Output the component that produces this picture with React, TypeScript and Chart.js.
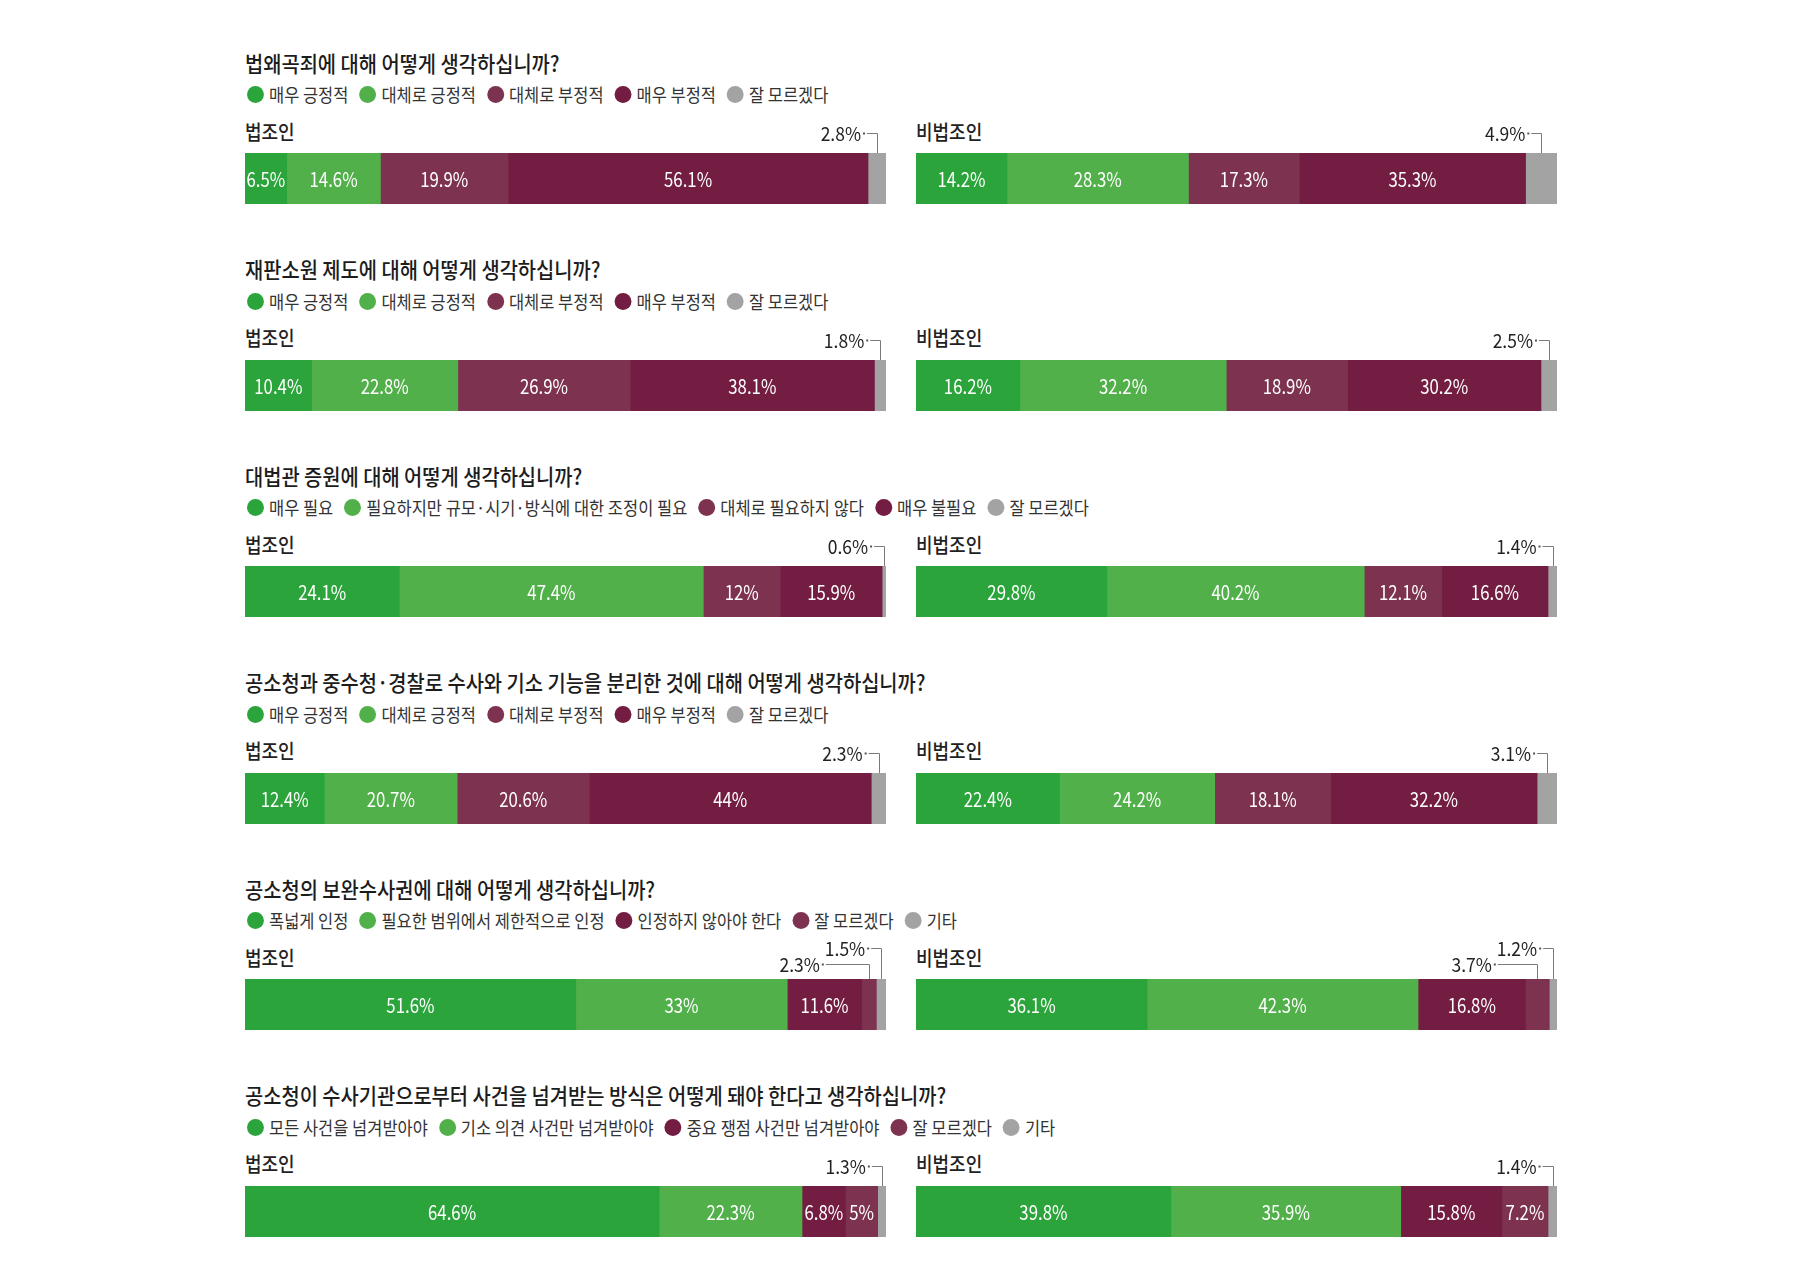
import React, { useEffect, useRef } from "react";
import { Chart, registerables } from "chart.js";

Chart.register(...registerables);

const FONT = '"Noto Sans CJK KR", "Noto Sans", sans-serif';

// ---------- colours ----------
const DARK_GREEN = "#2ba53b";
const LIGHT_GREEN = "#52b04b";
const MAUVE = "#7d3350";
const BURGUNDY = "#731d42";
const GRAY = "#a3a3a3";

const COLORS_A = [DARK_GREEN, LIGHT_GREEN, MAUVE, BURGUNDY, GRAY];
const COLORS_B = [DARK_GREEN, LIGHT_GREEN, BURGUNDY, MAUVE, GRAY];

// ---------- text ----------
const GROUPS = ["법조인", "비법조인"];

const TITLES = [
  "법왜곡죄에 대해 어떻게 생각하십니까?",
  "재판소원 제도에 대해 어떻게 생각하십니까?",
  "대법관 증원에 대해 어떻게 생각하십니까?",
  "공소청과 중수청·경찰로 수사와 기소 기능을 분리한 것에 대해 어떻게 생각하십니까?",
  "공소청의 보완수사권에 대해 어떻게 생각하십니까?",
  "공소청이 수사기관으로부터 사건을 넘겨받는 방식은 어떻게 돼야 한다고 생각하십니까?",
];

const LEGEND_OPINION = ["매우 긍정적", "대체로 긍정적", "대체로 부정적", "매우 부정적", "잘 모르겠다"];
const LEGEND_JUSTICES = ["매우 필요", "필요하지만 규모·시기·방식에 대한 조정이 필요", "대체로 필요하지 않다", "매우 불필요", "잘 모르겠다"];
const LEGEND_SUPPLEMENT = ["폭넓게 인정", "필요한 범위에서 제한적으로 인정", "인정하지 않아야 한다", "잘 모르겠다", "기타"];
const LEGEND_TRANSFER = ["모든 사건을 넘겨받아야", "기소 의견 사건만 넘겨받아야", "중요 쟁점 사건만 넘겨받아야", "잘 모르겠다", "기타"];

// ---------- values (%) : [법조인, 비법조인] ----------
const Q1_LAWYER = [6.5, 14.6, 19.9, 56.1, 2.8];
const Q1_PUBLIC = [14.2, 28.3, 17.3, 35.3, 4.9];

const Q2_LAWYER = [10.4, 22.8, 26.9, 38.1, 1.8];
const Q2_PUBLIC = [16.2, 32.2, 18.9, 30.2, 2.5];

const Q3_LAWYER = [24.1, 47.4, 12, 15.9, 0.6];
const Q3_PUBLIC = [29.8, 40.2, 12.1, 16.6, 1.4];

const Q4_LAWYER = [12.4, 20.7, 20.6, 44, 2.3];
const Q4_PUBLIC = [22.4, 24.2, 18.1, 32.2, 3.1];

const Q5_LAWYER = [51.6, 33, 11.6, 2.3, 1.5];
const Q5_PUBLIC = [36.1, 42.3, 16.8, 3.7, 1.2];

const Q6_LAWYER = [64.6, 22.3, 6.8, 5, 1.3];
const Q6_PUBLIC = [39.8, 35.9, 15.8, 7.2, 1.4];

// values below this get an outside call-out label
const SMALL_VALUE = 5;

const SECTIONS = [
  { title: TITLES[0], legend: LEGEND_OPINION, colors: COLORS_A, lawyer: Q1_LAWYER, publicV: Q1_PUBLIC },
  { title: TITLES[1], legend: LEGEND_OPINION, colors: COLORS_A, lawyer: Q2_LAWYER, publicV: Q2_PUBLIC },
  { title: TITLES[2], legend: LEGEND_JUSTICES, colors: COLORS_A, lawyer: Q3_LAWYER, publicV: Q3_PUBLIC },
  { title: TITLES[3], legend: LEGEND_OPINION, colors: COLORS_A, lawyer: Q4_LAWYER, publicV: Q4_PUBLIC },
  { title: TITLES[4], legend: LEGEND_SUPPLEMENT, colors: COLORS_B, lawyer: Q5_LAWYER, publicV: Q5_PUBLIC },
  { title: TITLES[5], legend: LEGEND_TRANSFER, colors: COLORS_B, lawyer: Q6_LAWYER, publicV: Q6_PUBLIC },
];

// ---------- layout ----------
const PITCH = 206.5;
const LEFT_X = 245;
const RIGHT_X = 916;
const BAR_W = 641;
const BAR_H = 51;
const PAD_TOP = 45;

const fmt = (v: number) => `${v}%`;

function condensedText(ctx: CanvasRenderingContext2D, txt: string, x: number, y: number, sx: number) {
  ctx.save();
  ctx.translate(x, y);
  ctx.scale(sx, 1);
  ctx.fillText(txt, 0, 0);
  ctx.restore();
}

const segLabelPlugin = {
  id: "segLabels",
  afterDatasetsDraw(chart: any) {
    const ctx: CanvasRenderingContext2D = chart.ctx;
    const segs = chart.data.datasets.map((ds: any, i: number) => {
      const el = chart.getDatasetMeta(i).data[0];
      const p = el.getProps(["x", "base", "y", "height"], true);
      const l = Math.min(p.x, p.base);
      const r = Math.max(p.x, p.base);
      return { v: ds.data[0] as number, cx: (l + r) / 2, top: p.y - p.height / 2, mid: p.y };
    });
    ctx.save();
    ctx.font = `400 20px ${FONT}`;
    ctx.fillStyle = "#ffffff";
    ctx.textAlign = "center";
    ctx.textBaseline = "middle";
    segs.forEach((s: any) => {
      if (s.v >= SMALL_VALUE) condensedText(ctx, fmt(s.v), s.cx, s.mid + 1, 0.84);
    });

    const small = segs.filter((s: any) => s.v < SMALL_VALUE);
    const n = small.length;
    let prevLeft = Infinity;
    const csx = 0.92;
    ctx.font = `400 19px ${FONT}`;
    ctx.textAlign = "right";
    for (let k = n - 1; k >= 0; k--) {
      const s = small[k];
      const ly = Math.round(n === 1 ? s.top - 20 : s.top - 15 - 16 * k);
      const vx = Math.round(s.cx) + 0.5;
      const txt = fmt(s.v);
      const tr = Math.min(s.cx - 16, prevLeft - 5);
      const tw = ctx.measureText(txt).width * csx;
      ctx.fillStyle = "#222222";
      condensedText(ctx, txt, tr, ly + 1, csx);
      prevLeft = tr - tw;
      ctx.strokeStyle = "#7a7a7a";
      ctx.lineWidth = 1;
      ctx.beginPath();
      ctx.moveTo(tr + 6, ly + 0.5);
      ctx.lineTo(vx, ly + 0.5);
      ctx.lineTo(vx, s.top);
      ctx.stroke();
      ctx.fillStyle = "#555555";
      ctx.fillRect(tr + 2, ly - 0.5, 2, 2);
    }
    ctx.restore();
  },
};

function StackedBar(props: { values: number[]; colors: string[]; names: string[]; left: number; top: number }) {
  const ref = useRef<HTMLCanvasElement>(null);
  const { values, colors, names, left, top } = props;
  useEffect(() => {
    const total = values.reduce((a, b) => a + b, 0);
    const chart = new Chart(ref.current as HTMLCanvasElement, {
      type: "bar",
      data: {
        labels: [""],
        datasets: values.map((v, i) => ({
          label: names[i],
          data: [v],
          backgroundColor: colors[i],
          borderWidth: 0,
          barPercentage: 1,
          categoryPercentage: 1,
        })),
      },
      options: {
        indexAxis: "y",
        responsive: false,
        maintainAspectRatio: false,
        animation: false,
        layout: { padding: { top: PAD_TOP, left: 0, right: 0, bottom: 0 } },
        scales: {
          x: { stacked: true, min: 0, max: total, display: false },
          y: { stacked: true, display: false },
        },
        plugins: { legend: { display: false }, tooltip: { enabled: false } },
      } as any,
      plugins: [segLabelPlugin as any],
    });
    return () => chart.destroy();
  }, []);
  return (
    <canvas
      ref={ref}
      width={BAR_W}
      height={BAR_H + PAD_TOP}
      style={{ position: "absolute", left, top, width: BAR_W, height: BAR_H + PAD_TOP }}
    />
  );
}

function Legend(props: { names: string[]; colors: string[]; top: number }) {
  const sx = 0.89;
  return (
    <div
      style={{
        position: "absolute",
        left: LEFT_X + 2,
        top: props.top,
        height: 17,
        display: "flex",
        alignItems: "center",
        whiteSpace: "nowrap",
        transform: `scaleX(${sx})`,
        transformOrigin: "left center",
      }}
    >
      {props.names.map((n, i) => (
        <div key={i} style={{ display: "flex", alignItems: "center", marginRight: 11 / sx }}>
          <span
            style={{
              display: "inline-block",
              width: 17 / sx,
              height: 17,
              borderRadius: "50%",
              background: props.colors[i],
              marginRight: 5 / sx,
            }}
          />
          <span style={{ fontSize: 18.5, lineHeight: "17px", color: "#333" }}>{n}</span>
        </div>
      ))}
    </div>
  );
}

function Text(props: { text: string; left: number; cy: number; size: number; weight: number; sx: number; color: string }) {
  const { text, left, cy, size, weight, sx, color } = props;
  return (
    <div
      style={{
        position: "absolute",
        left,
        top: cy - size * 0.56,
        fontSize: size,
        lineHeight: 1,
        fontWeight: weight,
        color,
        whiteSpace: "nowrap",
        transform: `scaleX(${sx})`,
        transformOrigin: "left center",
      }}
    >
      {text}
    </div>
  );
}

export default function App() {
  return (
    <div
      style={{
        position: "absolute",
        left: 0,
        top: 0,
        width: 1800,
        height: 1286,
        background: "#ffffff",
        overflow: "hidden",
        fontFamily: FONT,
      }}
    >
      {SECTIONS.map((s, i) => {
        const off = PITCH * i;
        const barTop = 153 + off;
        return (
          <React.Fragment key={i}>
            <Text text={s.title} left={LEFT_X} cy={63 + off} size={22} weight={500} sx={0.9} color="#1c1c1c" />
            <Legend names={s.legend} colors={s.colors} top={94.5 + off - 8.5} />
            <Text text={GROUPS[0]} left={LEFT_X} cy={133 + off} size={20} weight={500} sx={0.9} color="#222" />
            <Text text={GROUPS[1]} left={RIGHT_X} cy={133 + off} size={20} weight={500} sx={0.9} color="#222" />
            <StackedBar values={s.lawyer} colors={s.colors} names={s.legend} left={LEFT_X} top={barTop - PAD_TOP} />
            <StackedBar values={s.publicV} colors={s.colors} names={s.legend} left={RIGHT_X} top={barTop - PAD_TOP} />
          </React.Fragment>
        );
      })}
    </div>
  );
}
